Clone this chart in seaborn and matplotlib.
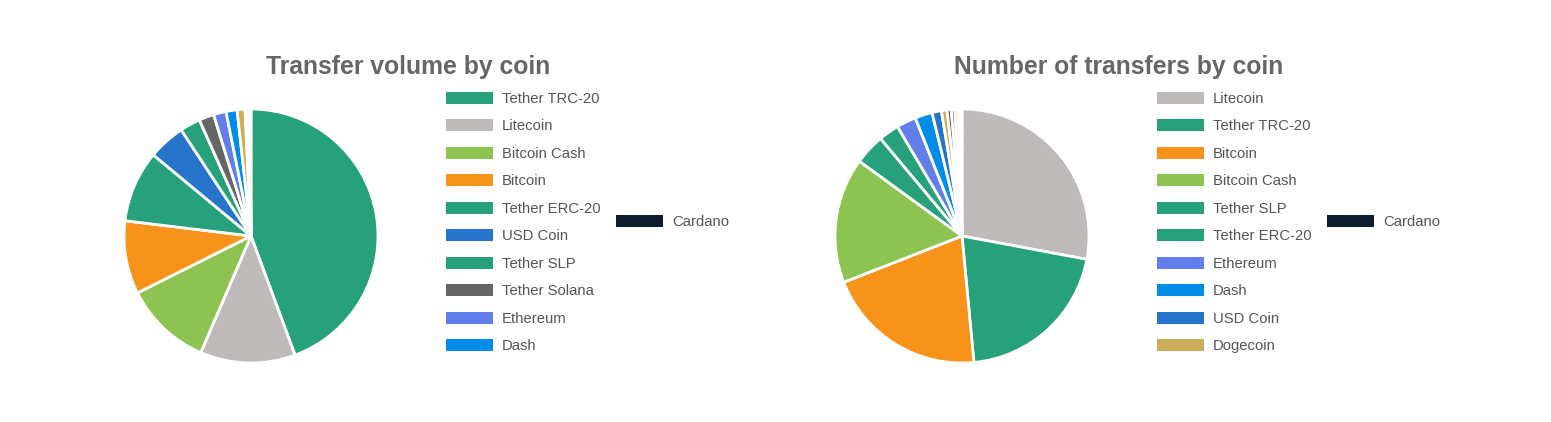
import seaborn as sns
import matplotlib.pyplot as plt
from matplotlib.patches import Rectangle

sns.set_theme(style='white')
plt.rcParams['font.family'] = ['Liberation Sans', 'DejaVu Sans']

# transfer volume share (%) by coin
volume_coins = ['Tether TRC-20', 'Litecoin', 'Bitcoin Cash', 'Bitcoin', 'Tether ERC-20',
                'USD Coin', 'Tether SLP', 'Tether Solana', 'Ethereum', 'Dash',
                'Dogecoin', 'Bitcoin SV', 'Monero', 'Cardano']
volume_share = [44.3, 12.1, 11.1, 9.3, 9.1, 4.7, 2.6, 1.9, 1.6, 1.4, 1.0, 0.35, 0.25, 0.15]
volume_legend = volume_coins[:10]

# number of transfers share (%) by coin
count_coins = ['Litecoin', 'Tether TRC-20', 'Bitcoin', 'Bitcoin Cash', 'Tether SLP',
               'Tether ERC-20', 'Ethereum', 'Dash', 'USD Coin', 'Dogecoin',
               'Tether Solana', 'Bitcoin SV', 'Monero', 'Zcash', 'Cardano']
count_share = [28.0, 20.6, 20.6, 16.0, 3.9, 2.6, 2.5, 2.2, 1.2, 0.7, 0.55, 0.45, 0.4, 0.25, 0.25]
count_legend = count_coins[:10]

coin_colors = {
    'Tether TRC-20': '#26a17b', 'Tether ERC-20': '#26a17b', 'Tether SLP': '#26a17b',
    'Litecoin': '#bebab9', 'Bitcoin Cash': '#8dc351', 'Bitcoin': '#f7931a',
    'USD Coin': '#2775ca', 'Tether Solana': '#666666', 'Ethereum': '#627eea',
    'Dash': '#008ce7', 'Dogecoin': '#cbad5a', 'Bitcoin SV': '#555555',
    'Monero': '#f26822', 'Zcash': '#444444', 'Cardano': '#0d1e30',
}

W, H = 1551, 422
fig = plt.figure(figsize=(W / 100, H / 100), dpi=100)


def draw_panel(cx, title, coins, share, legend_items):
    cy, r = 236, 127
    ax = fig.add_axes([(cx - r) / W, 1 - (cy + r) / H, 2 * r / W, 2 * r / H])
    ax.pie(share, colors=[coin_colors[c] for c in coins], startangle=90,
           counterclock=False, radius=1,
           wedgeprops=dict(edgecolor='white', linewidth=2))
    ax.set_xlim(-1, 1)
    ax.set_ylim(-1, 1)
    ax.set_aspect('equal')
    ax.axis('off')

    fig.text((cx + 157) / W, 1 - 67 / H, title, ha='center', va='center',
             fontsize=17.8, fontweight='bold', color='#666666')

    entries = [(name, cx + 195, 98 + i * 27.45) for i, name in enumerate(legend_items)]
    entries.append(('Cardano', cx + 365, 221))
    for name, px, py in entries:
        fig.add_artist(Rectangle((px / W, 1 - (py + 6) / H), 47 / W, 12 / H,
                                 transform=fig.transFigure,
                                 facecolor=coin_colors[name], edgecolor='none'))
        fig.text((px + 56) / W, 1 - (py + 1) / H, name, ha='left', va='center',
                 fontsize=10.7, color='#555555')


draw_panel(251, 'Transfer volume by coin', volume_coins, volume_share, volume_legend)
draw_panel(962, 'Number of transfers by coin', count_coins, count_share, count_legend)

fig.savefig('out.png', dpi=100)
